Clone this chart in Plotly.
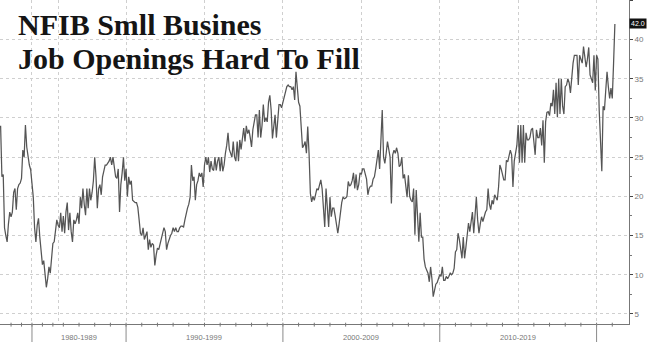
import plotly.graph_objects as go

# ---- data (NFIB: % of owners with job openings hard to fill) ----
# quarterly survey 1974Q1..1985Q4
quarterly_1974_1985 = [29, 22.5, 22.8, 16, 15, 14.2, 16.5, 18, 17.4, 18,
                       20.5, 21, 18.3, 21, 21.5, 21.7, 22.3, 25.9, 25, 29.1,
                       26.3, 25, 24, 23.4, 21.5, 19.9, 16, 14.2, 16.3, 17.2,
                       14.8, 13.2, 11.3, 11.8, 10, 8.4, 9.5, 11, 10.2, 12.8,
                       14, 14.2, 15.5, 17, 16.3, 16, 17.9, 15.5]
# monthly survey from 1986
m1986 = [17.5, 15.3, 18, 19.2, 15.7, 17.9, 15.5, 14.2, 17, 16.5, 17, 17.9]
m1987 = [16.5, 19.9, 18.5, 21, 19, 17.6, 21, 18.5, 21, 19.5, 20.5, 22]
m1988 = [25, 22.5, 18.5, 21, 21.5, 20.2, 22.5, 23.5, 24, 24, 24.3, 24.5]
m1989 = [25, 24, 25, 24, 22.5, 22.3, 23.5, 18, 21.5, 23, 25, 22]
m1990 = [23.5, 20, 22.5, 21.5, 22, 19.5, 19.3, 19.2, 19.2, 18.6, 17, 15.3]
m1991 = [15, 16, 14.5, 15, 15.5, 13.2, 14.5, 13.5, 14, 13.8, 11.2, 12.5]
m1992 = [13.4, 13.2, 14, 14.6, 15.5, 16, 15.5, 13.2, 14, 14.6, 15, 15.3]
m1993 = [16, 15.5, 16, 15.5, 15.5, 16, 16.2, 16.2, 16.1, 17, 18, 18.5]
m1994 = [19, 19.9, 24, 22, 22.5, 19.5, 21.5, 22, 23, 22.5, 23, 21.2]
m1995 = [24, 25, 24, 25, 23.1, 24.5, 23.5, 23.3, 25, 23.3, 24.5, 25]
m1996 = [23.2, 25, 23.2, 24, 25.5, 26.5, 28.1, 26, 25.5, 25, 27, 25]
m1997 = [24.5, 27, 24.5, 27.2, 26, 27.5, 28.7, 27, 29, 28, 28.5, 27.5]
m1998 = [26.3, 28.5, 29.5, 30.4, 30.4, 27.5, 31, 27.5, 29, 31.7, 29.5, 30]
m1999 = [29.5, 32, 32.9, 31, 27.4, 29.5, 30.4, 27.5, 30, 31.7, 31.7, 31.3]
m2000 = [32, 32.8, 33.6, 34, 34.2, 34, 34, 33.6, 34, 32.3, 35.9, 33.2]
m2001 = [32, 31.5, 29, 26.2, 26.5, 27, 25.5, 28.9, 25.5, 20.4, 19.3, 20]
m2002 = [19.5, 20.5, 21, 20.8, 21.5, 22.1, 21, 19, 16.1, 21, 18, 16.1]
m2003 = [19.9, 17.4, 18.5, 18.5, 17.5, 16.5, 15.3, 16.5, 18.3, 19.2, 19.9, 19.7]
m2004 = [19.8, 20, 21.9, 21.3, 21.5, 22, 23, 21, 22.8, 20.8, 21.5, 23]
m2005 = [22.8, 23.5, 23.5, 23, 22.2, 20.2, 21, 21.3, 21.3, 22.2, 22.5, 23.5]
m2006 = [24.9, 25.9, 23.5, 28, 31, 25, 24.2, 25.5, 27, 26, 25, 19.1]
m2007 = [25.3, 25.9, 25.5, 26.2, 25.5, 23.8, 24, 25, 22.3, 22.8, 21.5, 19.9]
m2008 = [22.7, 20, 19.5, 19.3, 21, 15.1, 20.8, 17, 14.2, 17.9, 14.8, 14.8]
m2009 = [12, 11, 10.5, 10.2, 9.1, 11, 9.5, 7.2, 8, 8.8, 9, 9.5]
m2010 = [10, 9.8, 11, 9.3, 9.3, 9.8, 9.5, 9.8, 10.2, 10, 10.2, 10.8]
m2011 = [12.9, 13.2, 15.3, 14.5, 13, 12.1, 14.8, 12.1, 13.5, 15, 16.6, 15.5]
m2012 = [17, 18, 15.3, 17.5, 19.9, 17, 15.3, 16.5, 17.4, 16.8, 17.5, 18]
m2013 = [18.3, 21, 19, 18.3, 19.5, 19, 20.2, 19.8, 19.5, 21.2, 24, 23.5]
m2014 = [22.8, 22.1, 22.1, 24.6, 24.4, 25, 25.9, 25.3, 21.2, 24.5, 25.9, 26.5]
m2015 = [29.1, 24.3, 29.1, 24.3, 29.1, 24.3, 28.1, 27.2, 27.2, 27.5, 28.5, 28.7]
m2016 = [27, 25.3, 28.5, 27.5, 27.5, 28.7, 26.5, 29.7, 24.3, 29.5, 30.7, 30.8]
m2017 = [30.3, 31.9, 31.5, 33.6, 30.5, 34.5, 30.1, 35, 30.5, 35, 31.5, 30.5]
m2018 = [34, 34.2, 35, 34.5, 33.2, 35.5, 37, 38, 38, 38, 34.2, 38]
m2019 = [37.5, 37, 39.1, 38, 36.5, 37.5, 39, 35.5, 35, 34.5, 38, 33.5]
m2020 = [38, 37.5, 31, 26, 23.2, 31.5, 31, 33.5, 35.9, 34, 32.5, 33.8]
m2021 = [32.5, 37, 42.0]

monthly_by_year = [m1986, m1987, m1988, m1989, m1990, m1991, m1992, m1993,
                   m1994, m1995, m1996, m1997, m1998, m1999, m2000, m2001,
                   m2002, m2003, m2004, m2005, m2006, m2007, m2008, m2009,
                   m2010, m2011, m2012, m2013, m2014, m2015, m2016, m2017,
                   m2018, m2019, m2020, m2021]

decade_labels = ["1980-1989", "1990-1999", "2000-2009", "2010-2019"]
y_ticks = [5, 10, 15, 20, 25, 30, 35, 40, 45]
title_line1 = "NFIB Smll Busines"
title_line2 = "Job Openings Hard To Fill"

# ---- build observation sequence (plotted by observation index) ----
labels, values = [], []
for k, v in enumerate(quarterly_1974_1985):
    labels.append(f"{1974 + k // 4}Q{k % 4 + 1}")
    values.append(v)
for yi, arr in enumerate(monthly_by_year):
    for mi, v in enumerate(arr):
        labels.append(f"{1986 + yi}-{mi + 1:02d}")
        values.append(v)
idx = list(range(len(values)))
pos = {lab: i for i, lab in enumerate(labels)}


def year_start(y):
    return pos[f"{y}Q1"] if y < 1986 else pos[f"{y}-01"]


grid_years = [1980, 1985, 1990, 1995, 2000, 2005, 2010, 2015, 2020]
grid_vals = [year_start(y) for y in grid_years]
minor_years = list(range(1976, 1986, 2)) + list(range(1986, 2022))
minor_vals = [year_start(y) for y in minor_years]
decade_bounds = [year_start(y) for y in [1980, 1990, 2000, 2010, 2020]]

fig = go.Figure()
fig.add_trace(go.Scatter(x=idx, y=values, mode="lines",
                         line=dict(color="#555555", width=1.25),
                         text=labels, hoverinfo="text+y"))

shapes = []
for b in minor_vals:
    shapes.append(dict(type="line", xref="x", yref="paper", x0=b, x1=b,
                       y0=0.004, y1=-0.008,
                       line=dict(color="#777777", width=1)))
for b in decade_bounds:
    shapes.append(dict(type="line", xref="x", yref="paper", x0=b, x1=b,
                       y0=0, y1=-0.06, line=dict(color="#8a8a8a", width=1)))

annotations = []
for k, lab in enumerate(decade_labels):
    cx = (decade_bounds[k] + decade_bounds[k + 1]) / 2
    annotations.append(dict(x=cx, y=-0.043, xref="x", yref="paper",
                            text=lab, showarrow=False, yanchor="middle",
                            font=dict(family="Liberation Sans", size=7.5,
                                      color="#777777")))
annotations.append(dict(x=0.025, y=0.925, xref="paper", yref="paper",
                        xanchor="left", yanchor="middle", showarrow=False,
                        text=f"<b>{title_line1}</b>",
                        font=dict(family="Liberation Serif", size=30,
                                  color="#151515")))
annotations.append(dict(x=0.025, y=0.82, xref="paper", yref="paper",
                        xanchor="left", yanchor="middle", showarrow=False,
                        text=f"<b>{title_line2}</b>",
                        font=dict(family="Liberation Serif", size=30,
                                  color="#151515")))
annotations.append(dict(x=1, y=values[-1], xref="paper", yref="y",
                        xanchor="left", yanchor="middle", showarrow=False,
                        text=f"{values[-1]:.1f}", bgcolor="#111111",
                        borderpad=1,
                        font=dict(family="Liberation Sans", size=7,
                                  color="#ffffff")))

fig.update_layout(
    width=650, height=342,
    margin=dict(l=0, r=21, t=0, b=18),
    paper_bgcolor="white", plot_bgcolor="white",
    showlegend=False,
    shapes=shapes, annotations=annotations,
    xaxis=dict(range=[-0.46, 480.8], tickmode="array", tickvals=grid_vals,
               showticklabels=False, ticks="", showgrid=True,
               gridcolor="#cfcfcf", griddash="dot", gridwidth=1,
               showline=True, linecolor="#777777", linewidth=1,
               zeroline=False),
    yaxis=dict(range=[3.72, 45.05], side="right", tickmode="array",
               tickvals=y_ticks, ticktext=[str(t) for t in y_ticks],
               ticks="outside", ticklen=3, tickcolor="#444444",
               tickfont=dict(family="Liberation Sans", size=8,
                             color="#777777"),
               showgrid=True, gridcolor="#cfcfcf", griddash="dot",
               gridwidth=1, showline=True, linecolor="#777777",
               linewidth=1, zeroline=False,
               minor=dict(dtick=2.5, tick0=5, ticks="outside", ticklen=2,
                          tickcolor="#777777", showgrid=False)),
)

fig.write_html("out.html")
